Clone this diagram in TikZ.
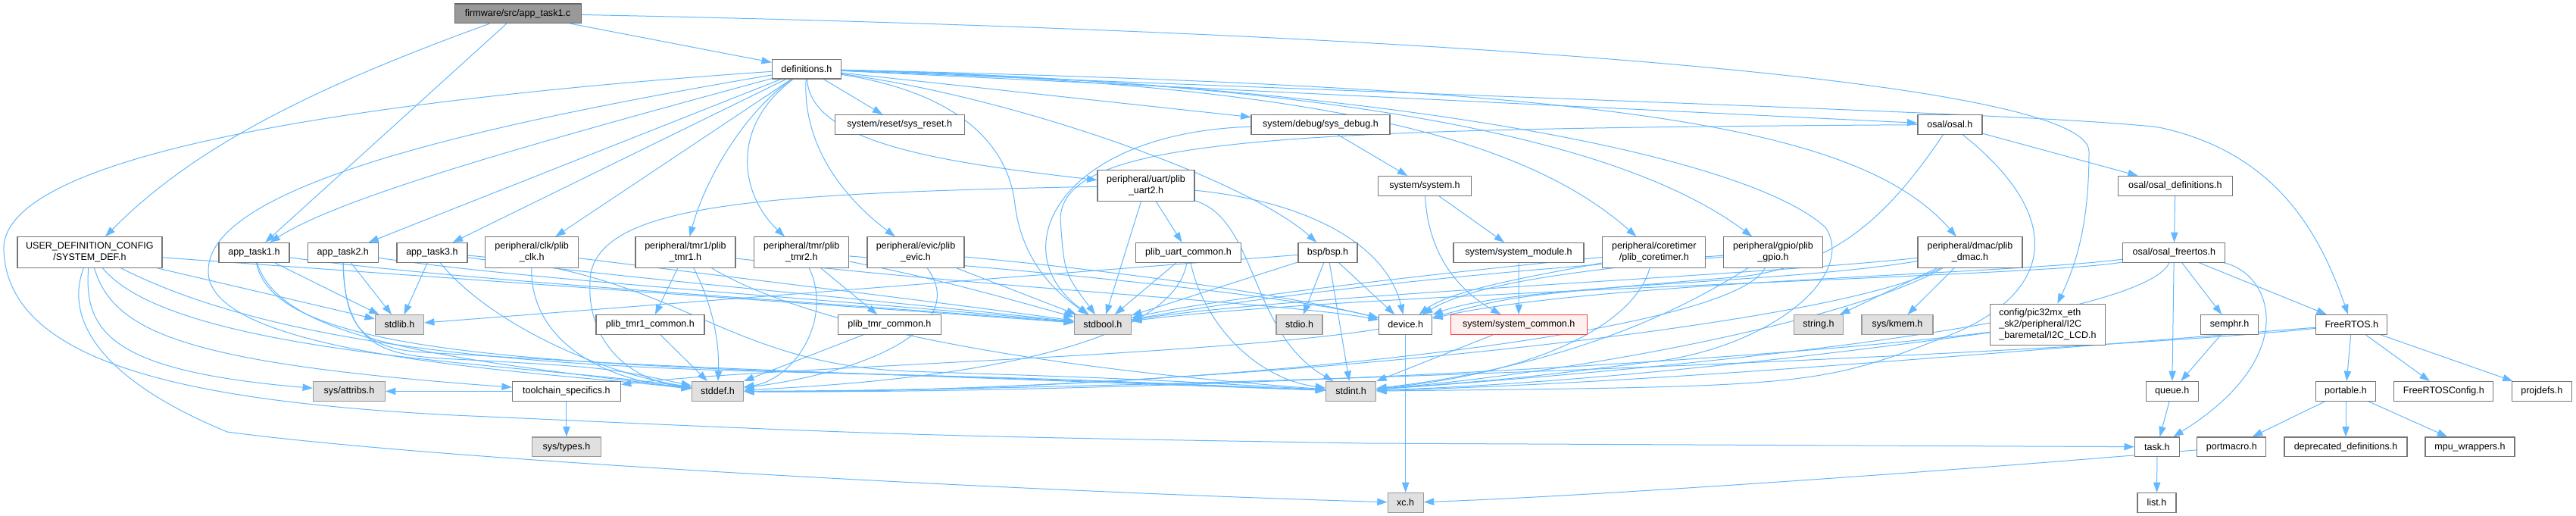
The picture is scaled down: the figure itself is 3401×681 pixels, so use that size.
\documentclass[tikz,border=0pt]{standalone}
\usepackage{fontspec}
\setmainfont{Liberation Sans}
\usetikzlibrary{arrows.meta,calc}
\pgfdeclarelayer{bg}
\pgfsetlayers{bg,main}
\definecolor{edgec}{HTML}{63B8FF}
\definecolor{nodeb}{HTML}{777777}
\definecolor{grayf}{HTML}{E0E0E0}
\definecolor{grayb}{HTML}{999999}
\definecolor{rootf}{HTML}{999999}
\definecolor{rootb}{HTML}{666666}
\definecolor{redb}{HTML}{FF4040}
\definecolor{redf}{HTML}{FFF0F0}
\tikzset{
  nb/.style={draw=nodeb, fill=white, line width=0.9pt, inner sep=0pt, minimum height=19.2pt, align=center, font=\fontsize{9.4}{11.4}\selectfont},
  sysn/.style={nb, draw=grayb, fill=grayf},
  rootn/.style={nb, draw=rootb, fill=rootf},
  redn/.style={nb, draw=redb, fill=redf},
  two/.style={minimum height=30.3pt},
  three/.style={minimum height=40.7pt},
  wd/.style={minimum width=#1*0.75pt},
  lnk/.style={draw=edgec, line width=0.75pt, -{Triangle[length=10pt,width=7pt]}},
}
\begin{document}
\begin{tikzpicture}[x=0.75pt,y=-0.75pt]
\useasboundingbox (0,0) rectangle (3401,681);
% ---------- nodes ----------
\node[rootn, wd=167] (c) at (683.6,17.8) {firmware/src/app\_task1.c};
\node[nb, wd=91] (defs) at (1064.9,91.2) {definitions.h};
\node[nb, two, wd=191] (sysdef) at (118.4,333) {USER\_DEFINITION\_CONFIG\\/SYSTEM\_DEF.h};
\node[nb, wd=93] (at1) at (335.5,333.3) {app\_task1.h};
\node[nb, wd=93] (at2) at (452.8,333.3) {app\_task2.h};
\node[nb, wd=93] (at3) at (570.4,333.3) {app\_task3.h};
\node[nb, two, wd=123] (clk) at (702.2,333) {peripheral/clk/plib\\\_clk.h};
\node[nb, two, wd=132] (tmr1) at (904.9,333) {peripheral/tmr1/plib\\\_tmr1.h};
\node[nb, two, wd=125] (tmr2) at (1058.3,333) {peripheral/tmr/plib\\\_tmr2.h};
\node[nb, two, wd=128] (evic) at (1209,333) {peripheral/evic/plib\\\_evic.h};
\node[nb, wd=171] (sysreset) at (1187.7,164.4) {system/reset/sys\_reset.h};
\node[nb, two, wd=128] (uart2) at (1513,245) {peripheral/uart/plib\\\_uart2.h};
\node[nb, wd=139] (uartc) at (1569,333.3) {plib\_uart\_common.h};
\node[nb, wd=183] (sysdebug) at (1743.5,164.4) {system/debug/sys\_debug.h};
\node[nb, wd=123] (system) at (1881,245.4) {system/system.h};
\node[nb, wd=78] (bsp) at (1753,333.3) {bsp/bsp.h};
\node[nb, wd=172] (sysmod) at (2005,333.3) {system/system\_module.h};
\node[nb, two, wd=136] (coretimer) at (2183.8,333) {peripheral/coretimer\\/plib\_coretimer.h};
\node[nb, two, wd=131] (gpio) at (2341,333) {peripheral/gpio/plib\\\_gpio.h};
\node[nb, two, wd=138] (dmac) at (2601,333) {peripheral/dmac/plib\\\_dmac.h};
\node[nb, wd=85] (osal) at (2574.4,164.4) {osal/osal.h};
\node[nb, wd=151] (osaldef) at (2871.8,245.4) {osal/osal\_definitions.h};
\node[nb, wd=135] (osalfr) at (2870.3,333.3) {osal/osal\_freertos.h};
\node[nb, three, wd=152, align=left] (i2c) at (2703.5,428.5) {config/pic32mx\_eth\\\_sk2/peripheral/I2C\\\_baremetal/I2C\_LCD.h};
\node[sysn, wd=64] (stdlib) at (527.5,428.5) {stdlib.h};
\node[nb, wd=143] (tmr1c) at (858.4,428.5) {plib\_tmr1\_common.h};
\node[nb, wd=136] (tmrc) at (1174.4,428.5) {plib\_tmr\_common.h};
\node[sysn, wd=75] (stdbool) at (1455.9,428.5) {stdbool.h};
\node[sysn, wd=61] (stdio) at (1715.5,428.5) {stdio.h};
\node[nb, wd=70] (device) at (1855.7,428.5) {device.h};
\node[redn, wd=180] (syscommon) at (2005.2,428.5) {system/system\_common.h};
\node[sysn, wd=65] (string) at (2401,428.5) {string.h};
\node[sysn, wd=94] (kmem) at (2505,428.5) {sys/kmem.h};
\node[nb, wd=76] (semphr) at (2943.6,428.5) {semphr.h};
\node[nb, wd=94] (freertos) at (3104.8,428.5) {FreeRTOS.h};
\node[sysn, wd=95] (attribs) at (461,516.4) {sys/attribs.h};
\node[nb, wd=143] (toolchain) at (747.9,516.4) {toolchain\_specifics.h};
\node[sysn, wd=68] (stddef) at (947.5,516.4) {stddef.h};
\node[sysn, wd=66] (stdint) at (1783.6,516.4) {stdint.h};
\node[nb, wd=69] (queue) at (2867.7,516.4) {queue.h};
\node[nb, wd=79] (portable) at (3097,516.4) {portable.h};
\node[nb, wd=131] (frconfig) at (3226.3,516.4) {FreeRTOSConfig.h};
\node[nb, wd=79] (projdefs) at (3355.8,516.4) {projdefs.h};
\node[sysn, wd=91] (systypes) at (747.9,589.8) {sys/types.h};
\node[nb, wd=59] (task) at (2847.9,589.8) {task.h};
\node[nb, wd=91] (portmacro) at (2946.3,589.8) {portmacro.h};
\node[nb, wd=162] (deprecated) at (3097,589.8) {deprecated\_definitions.h};
\node[nb, wd=118] (mpu) at (3261,589.8) {mpu\_wrappers.h};
\node[sysn, wd=47] (xc) at (1855.7,663.4) {xc.h};
\node[nb, wd=51] (list) at (2847.5,663.4) {list.h};
% ---------- edges ----------
\begin{pgfonlayer}{bg}
% root
\draw[lnk] (c) -- (defs);
\draw[lnk] (c) -- (at1);
\draw[lnk] (c) .. controls (400,120) and (250,200) .. (sysdef);
\draw[lnk] (c) .. controls (1800,40) and (2758,100) .. (2758,200) .. controls (2758,300) and (2740,350) .. (i2c);
% definitions.h
\draw[lnk] (defs) .. controls (700,190) and (450,260) .. (at1);
\draw[lnk] (defs) -- (at2);
\draw[lnk] (defs) -- (at3);
\draw[lnk] (defs) -- (clk);
\draw[lnk] (defs) .. controls (980,150) and (930,240) .. (tmr1);
\draw[lnk] (defs) .. controls (960,170) and (980,260) .. (tmr2);
\draw[lnk] (defs) .. controls (1060,180) and (1100,250) .. (evic);
\draw[lnk] (defs) -- (sysreset);
\draw[lnk] (defs) .. controls (1070,190) and (1250,215) .. (uart2);
\draw[lnk] (defs) .. controls (1250,120) and (1330,180) .. (1340,270) .. controls (1350,350) and (1400,390) .. (stdbool);
\draw[lnk] (defs) -- (sysdebug);
\draw[lnk] (defs) .. controls (1350,130) and (1650,240) .. (bsp);
\draw[lnk] (defs) .. controls (1700,110) and (2000,170) .. (coretimer);
\draw[lnk] (defs) .. controls (1800,110) and (2150,190) .. (gpio);
\draw[lnk] (defs) .. controls (2100,115) and (2450,160) .. (dmac);
\draw[lnk] (defs) -- (osal);
\draw[lnk] (defs) .. controls (2000,130) and (2700,150) .. (2850,168) .. controls (3000,200) and (3060,300) .. (freertos);
\draw[lnk] (defs) .. controls (500,130) and (0,200) .. (5,330) .. controls (10,480) and (250,530) .. (600,548) .. controls (1200,575) .. (1800,585) -- (task);
\draw[lnk] (defs) .. controls (600,170) and (270,250) .. (275,360) .. controls (280,470) and (700,490) .. (stddef);
\draw[lnk] (defs) .. controls (1800,110) and (2300,200) .. (2410,300) .. controls (2450,360) and (2350,450) .. (2200,475) .. controls (2000,500) .. (stdint);
% SYSTEM_DEF
\draw[lnk] (sysdef) -- (stdlib);
\draw[lnk] (sysdef) -- (stdbool);
\draw[lnk] (sysdef) .. controls (231,470) and (700,480) .. (stddef);
\draw[lnk] (sysdef) .. controls (330,440) and (600,480) .. (1000,490) .. controls (1400,500) .. (stdint);
\draw[lnk] (sysdef) .. controls (110,440) and (150,490) .. (attribs);
\draw[lnk] (sysdef) .. controls (150,440) and (250,480) .. (toolchain);
\draw[lnk] (sysdef) .. controls (85,420) and (130,500) .. (300,570) .. controls (600,610) and (1400,650) .. (xc);
% app_task1.h
\draw[lnk] (at1) -- (stdlib);
\draw[lnk] (at1) .. controls (370,450) and (600,475) .. (stddef);
\draw[lnk] (at1) .. controls (360,450) and (600,480) .. (1200,495) .. controls (1500,505) .. (stdint);
\draw[lnk] (at1) .. controls (600,370) and (1100,400) .. (stdbool);
% app_task2.h
\draw[lnk] (at2) -- (stdlib);
\draw[lnk] (at2) .. controls (455,470) and (520,470) .. (620,475) .. controls (800,485) .. (stddef);
\draw[lnk] (at2) .. controls (455,420) and (470,460) .. (560,465) .. controls (900,485) .. (stdint);
\draw[lnk] (at2) .. controls (700,370) and (1100,395) .. (stdbool);
% app_task3.h
\draw[lnk] (at3) -- (stdlib);
\draw[lnk] (at3) .. controls (640,420) and (780,490) .. (stddef);
\draw[lnk] (at3) .. controls (800,365) and (1150,395) .. (stdbool);
\draw[lnk] (at3) .. controls (900,360) and (950,480) .. (1200,490) .. controls (1500,500) .. (stdint);
% clk
\draw[lnk] (clk) .. controls (700,440) and (780,500) .. (stddef);
\draw[lnk] (clk) .. controls (1000,370) and (1250,400) .. (stdbool);
% tmr1
\draw[lnk] (tmr1) -- (tmr1c);
\draw[lnk] (tmr1) .. controls (940,400) and (950,450) .. (stddef);
\draw[lnk] (tmr1) .. controls (1050,420) and (1300,480) .. (stdint);
\draw[lnk] (tmr1) .. controls (1300,380) and (1700,400) .. (device);
\draw[lnk] (tmr1c) -- (stddef);
\draw[lnk] (tmrc) -- (stddef);
% tmr2
\draw[lnk] (tmr2) -- (tmrc);
\draw[lnk] (tmr2) .. controls (1100,420) and (1050,500) .. (stddef);
\draw[lnk] (tmr2) .. controls (1250,370) and (1350,400) .. (stdbool);
\draw[lnk] (tmr2) .. controls (1400,360) and (1700,390) .. (device);
% evic
\draw[lnk] (evic) -- (stdbool);
\draw[lnk] (evic) .. controls (1280,430) and (1150,490) .. (stddef);
\draw[lnk] (evic) .. controls (1500,360) and (1700,390) .. (device);
% uart2
\draw[lnk] (uart2) -- (uartc);
\draw[lnk] (uart2) -- (stdbool);
\draw[lnk] (uart2) .. controls (1660,290) and (1650,440) .. (stdint);
\draw[lnk] (uart2) .. controls (1720,265) and (1830,320) .. (device);
\draw[lnk] (uart2) .. controls (1000,255) and (800,270) .. (780,360) .. controls (770,440) and (820,500) .. (stddef);
% uart common
\draw[lnk] (uartc) -- (stdbool);
\draw[lnk] (uartc) .. controls (1550,450) and (1300,500) .. (stddef);
\draw[lnk] (uartc) .. controls (1590,430) and (1660,500) .. (stdint);
% debug / system
\draw[lnk] (sysdebug) -- (system);
\draw[lnk] (sysdebug) .. controls (1400,175) and (1320,330) .. (stdbool);
\draw[lnk] (system) -- (sysmod);
\draw[lnk] (system) .. controls (1885,330) and (1920,380) .. (syscommon);
\draw[lnk] (sysmod) -- (syscommon);
\draw[lnk] (syscommon) -- (stdint);
% bsp
\draw[lnk] (bsp) -- (stdio);
\draw[lnk] (bsp) -- (stdint);
\draw[lnk] (bsp) -- (device);
\draw[lnk] (bsp) -- (stdlib);
\draw[lnk] (bsp) -- (stdbool);
% coretimer
\draw[lnk] (coretimer) .. controls (2050,360) and (1920,380) .. (device);
\draw[lnk] (coretimer) .. controls (2160,420) and (2050,490) .. (stdint);
\draw[lnk] (coretimer) .. controls (1900,360) and (1600,395) .. (stdbool);
% gpio
\draw[lnk] (gpio) .. controls (2100,355) and (1950,372) .. (device);
\draw[lnk] (gpio) .. controls (2000,355) and (1700,385) .. (stdbool);
\draw[lnk] (gpio) .. controls (2250,390) and (2100,480) .. (stdint);
\draw[lnk] (gpio) .. controls (2280,450) and (1500,520) .. (stddef);
% dmac
\draw[lnk] (dmac) -- (string);
\draw[lnk] (dmac) -- (kmem);
\draw[lnk] (dmac) .. controls (2350,375) and (2000,375) .. (device);
\draw[lnk] (dmac) .. controls (2300,365) and (1700,390) .. (stdbool);
\draw[lnk] (dmac) .. controls (2450,420) and (2100,490) .. (stdint);
\draw[lnk] (dmac) .. controls (2400,440) and (1500,520) .. (stddef);
% osal
\draw[lnk] (osal) -- (osaldef);
\draw[lnk] (osal) .. controls (1700,170) and (1400,180) .. (1400,290) .. controls (1405,360) .. (stdbool);
\draw[lnk] (osal) .. controls (2490,290) and (2420,350) .. (2300,365) .. controls (2000,390) .. (device);
\draw[lnk] (osal) .. controls (2720,280) and (2720,380) .. (2580,440) .. controls (2400,510) .. (stdint);
\draw[lnk] (osaldef) -- (osalfr);
% osal_freertos
\draw[lnk] (osalfr) -- (freertos);
\draw[lnk] (osalfr) -- (semphr);
\draw[lnk] (osalfr) -- (queue);
\draw[lnk] (osalfr) .. controls (3000,360) and (3040,470) .. (task);
\draw[lnk] (osalfr) .. controls (2650,362) and (2100,372) .. (device);
\draw[lnk] (osalfr) .. controls (2700,365) and (1800,385) .. (stdbool);
\draw[lnk] (osalfr) .. controls (2830,420) and (2300,480) .. (stdint);
% FreeRTOS parts
\draw[lnk] (semphr) -- (queue);
\draw[lnk] (queue) -- (task);
\draw[lnk] (task) -- (list);
\draw[lnk] (freertos) -- (portable);
\draw[lnk] (freertos) -- (frconfig);
\draw[lnk] (freertos) -- (projdefs);
\draw[lnk] (freertos) .. controls (2700,470) and (1500,515) .. (stddef);
\draw[lnk] (freertos) .. controls (2700,460) and (2200,505) .. (stdint);
\draw[lnk] (portable) -- (portmacro);
\draw[lnk] (portable) -- (deprecated);
\draw[lnk] (portable) -- (mpu);
\draw[lnk] (portmacro) .. controls (2600,620) and (2100,655) .. (xc);
% device / toolchain
\draw[lnk] (device) -- (xc);
\draw[lnk] (device) .. controls (1600,470) and (1000,485) .. (toolchain);
\draw[lnk] (toolchain) -- (attribs);
\draw[lnk] (toolchain) -- (systypes);
% I2C_LCD
\draw[lnk] (i2c) .. controls (2400,470) and (2100,505) .. (stdint);
\draw[lnk] (i2c) .. controls (2300,480) and (1500,520) .. (stddef);
\end{pgfonlayer}
\end{tikzpicture}
\end{document}
